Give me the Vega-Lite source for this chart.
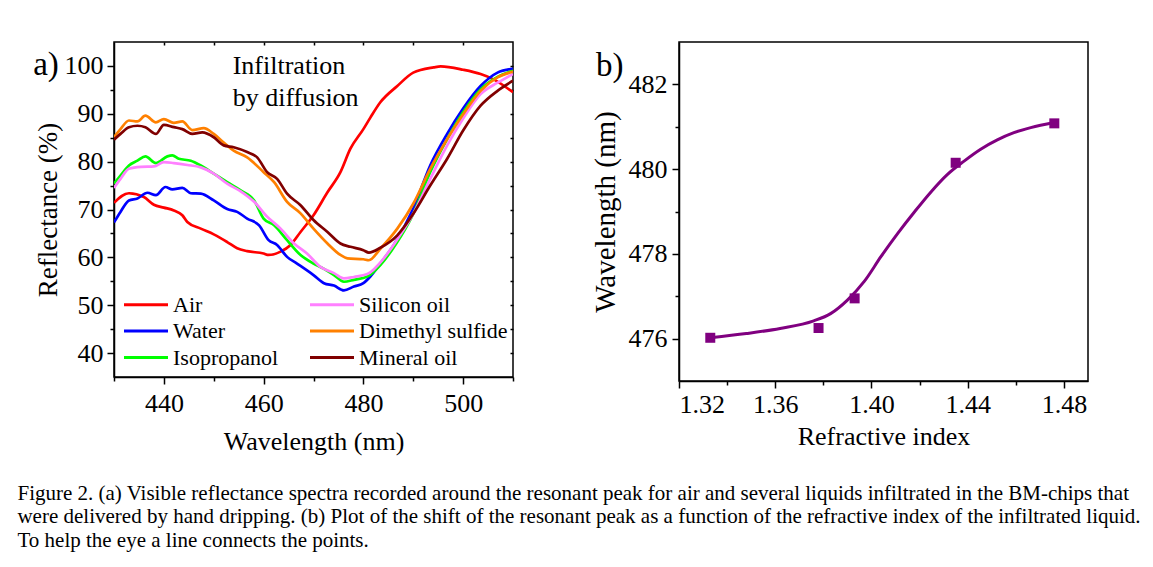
{
  "$schema": "https://vega.github.io/schema/vega-lite/v6.json",
  "padding": {"left": 17, "top": 40, "right": 5, "bottom": 5},
  "background": "white",
  "config": {
    "font": "Liberation Serif",
    "view": {"stroke": "black", "strokeWidth": 1.5},
    "axis": {"domainColor": "black", "domainWidth": 1.5, "tickColor": "black", "tickWidth": 1.5, "labelColor": "black", "titleColor": "black", "labelFont": "Liberation Serif", "titleFont": "Liberation Serif", "titleFontWeight": "normal", "labelFontSize": 26, "labelOverlap": false, "grid": false}
  },
  "title": {
    "text": ["Figure 2. (a) Visible reflectance spectra recorded around the resonant peak for air and several liquids infiltrated in the BM-chips that", "were delivered by hand dripping. (b) Plot of the shift of the resonant peak as a function of the refractive index of the infiltrated liquid.", "To help the eye a line connects the points."],
    "orient": "bottom", "anchor": "start", "font": "Liberation Serif", "fontSize": 21, "fontWeight": "normal", "lineHeight": 23.5, "offset": 28, "dx": -15, "color": "black"
  },
  "datasets": {
    "spectra": [
      {"s":"Air","w":430,"r":71.4},{"s":"Air","w":433,"r":73.4},{"s":"Air","w":436,"r":72.6},{"s":"Air","w":438,"r":71.0},{"s":"Air","w":440,"r":70.4},{"s":"Air","w":442,"r":69.8},{"s":"Air","w":443.7,"r":68.8},{"s":"Air","w":444.7,"r":67.4},{"s":"Air","w":447.4,"r":66.0},{"s":"Air","w":450,"r":64.8},{"s":"Air","w":452.7,"r":63.2},{"s":"Air","w":454.7,"r":61.9},{"s":"Air","w":456.7,"r":61.3},{"s":"Air","w":460,"r":60.8},{"s":"Air","w":461,"r":60.5},{"s":"Air","w":463.4,"r":61.2},{"s":"Air","w":465.4,"r":62.6},{"s":"Air","w":467.4,"r":65.3},{"s":"Air","w":470,"r":68.8},{"s":"Air","w":472.8,"r":73.6},{"s":"Air","w":475.4,"r":77.8},{"s":"Air","w":477.4,"r":82.7},{"s":"Air","w":480,"r":86.8},{"s":"Air","w":481.4,"r":89.2},{"s":"Air","w":483.4,"r":92.4},{"s":"Air","w":486.8,"r":95.8},{"s":"Air","w":490,"r":98.6},{"s":"Air","w":494.1,"r":99.7},{"s":"Air","w":495.5,"r":99.9},{"s":"Air","w":500,"r":99.2},{"s":"Air","w":503.5,"r":98.3},{"s":"Air","w":506.1,"r":97.2},{"s":"Air","w":510,"r":94.5},
      {"s":"Water","w":430,"r":67.3},{"s":"Water","w":431.3,"r":69.5},{"s":"Water","w":433,"r":71.9},{"s":"Water","w":434.7,"r":72.3},{"s":"Water","w":436.7,"r":73.5},{"s":"Water","w":438.4,"r":73.0},{"s":"Water","w":440.3,"r":74.7},{"s":"Water","w":441.7,"r":74.2},{"s":"Water","w":443.7,"r":74.5},{"s":"Water","w":445.4,"r":73.4},{"s":"Water","w":447.4,"r":73.3},{"s":"Water","w":450,"r":71.9},{"s":"Water","w":452.7,"r":70.1},{"s":"Water","w":454.7,"r":69.5},{"s":"Water","w":456.7,"r":68.1},{"s":"Water","w":459.1,"r":66.7},{"s":"Water","w":461,"r":63.6},{"s":"Water","w":462.7,"r":62.6},{"s":"Water","w":464.7,"r":60.1},{"s":"Water","w":466.7,"r":58.7},{"s":"Water","w":470,"r":56.3},{"s":"Water","w":472.1,"r":54.6},{"s":"Water","w":474.1,"r":54.1},{"s":"Water","w":476.1,"r":53.1},{"s":"Water","w":478.1,"r":53.9},{"s":"Water","w":480,"r":54.6},{"s":"Water","w":481.4,"r":56.0},{"s":"Water","w":483.4,"r":58.7},{"s":"Water","w":486.1,"r":62.6},{"s":"Water","w":490,"r":70.2},{"s":"Water","w":493.4,"r":79.2},{"s":"Water","w":496.8,"r":85.8},{"s":"Water","w":500,"r":91.1},{"s":"Water","w":503.5,"r":95.8},{"s":"Water","w":506.9,"r":98.6},{"s":"Water","w":510,"r":99.4},
      {"s":"Isopropanol","w":430,"r":75.4},{"s":"Isopropanol","w":431.3,"r":77.1},{"s":"Isopropanol","w":433,"r":79.2},{"s":"Isopropanol","w":434.7,"r":80.2},{"s":"Isopropanol","w":436.3,"r":81.1},{"s":"Isopropanol","w":438.4,"r":79.7},{"s":"Isopropanol","w":440.7,"r":81.1},{"s":"Isopropanol","w":441.7,"r":81.3},{"s":"Isopropanol","w":443,"r":80.6},{"s":"Isopropanol","w":445.4,"r":80.2},{"s":"Isopropanol","w":447.4,"r":79.2},{"s":"Isopropanol","w":450,"r":77.5},{"s":"Isopropanol","w":452.7,"r":75.7},{"s":"Isopropanol","w":455.4,"r":74.0},{"s":"Isopropanol","w":458.1,"r":71.9},{"s":"Isopropanol","w":460,"r":68.1},{"s":"Isopropanol","w":462.1,"r":66.7},{"s":"Isopropanol","w":464.7,"r":63.6},{"s":"Isopropanol","w":467.4,"r":60.5},{"s":"Isopropanol","w":470,"r":58.7},{"s":"Isopropanol","w":472.1,"r":57.6},{"s":"Isopropanol","w":474.1,"r":56.3},{"s":"Isopropanol","w":476.1,"r":54.9},{"s":"Isopropanol","w":478.1,"r":55.3},{"s":"Isopropanol","w":480.8,"r":56.0},{"s":"Isopropanol","w":483.4,"r":58.4},{"s":"Isopropanol","w":486.6,"r":62.9},{"s":"Isopropanol","w":490,"r":69.1},{"s":"Isopropanol","w":493.4,"r":77.8},{"s":"Isopropanol","w":496.8,"r":84.7},{"s":"Isopropanol","w":500,"r":90.3},{"s":"Isopropanol","w":503.5,"r":95.1},{"s":"Isopropanol","w":506.9,"r":97.7},{"s":"Isopropanol","w":510,"r":99.0},
      {"s":"Silicon oil","w":430,"r":74.5},{"s":"Silicon oil","w":431.3,"r":76.4},{"s":"Silicon oil","w":433,"r":78.5},{"s":"Silicon oil","w":435.4,"r":78.9},{"s":"Silicon oil","w":438,"r":79.0},{"s":"Silicon oil","w":440,"r":79.9},{"s":"Silicon oil","w":442,"r":79.7},{"s":"Silicon oil","w":444.7,"r":79.3},{"s":"Silicon oil","w":447.4,"r":78.8},{"s":"Silicon oil","w":450,"r":77.5},{"s":"Silicon oil","w":452.7,"r":75.4},{"s":"Silicon oil","w":455.4,"r":73.8},{"s":"Silicon oil","w":458.1,"r":71.6},{"s":"Silicon oil","w":460.7,"r":68.5},{"s":"Silicon oil","w":463.4,"r":66.0},{"s":"Silicon oil","w":466.1,"r":62.9},{"s":"Silicon oil","w":468.7,"r":60.8},{"s":"Silicon oil","w":471.4,"r":58.0},{"s":"Silicon oil","w":474.1,"r":56.7},{"s":"Silicon oil","w":476.1,"r":55.6},{"s":"Silicon oil","w":478.1,"r":55.9},{"s":"Silicon oil","w":480.8,"r":56.5},{"s":"Silicon oil","w":484.1,"r":59.8},{"s":"Silicon oil","w":487.4,"r":64.7},{"s":"Silicon oil","w":490,"r":69.1},{"s":"Silicon oil","w":493.4,"r":76.4},{"s":"Silicon oil","w":496.8,"r":83.4},{"s":"Silicon oil","w":500,"r":89.0},{"s":"Silicon oil","w":503.5,"r":94.1},{"s":"Silicon oil","w":506.9,"r":96.5},{"s":"Silicon oil","w":510,"r":98.3},
      {"s":"Dimethyl sulfide","w":430,"r":85.1},{"s":"Dimethyl sulfide","w":431.3,"r":86.8},{"s":"Dimethyl sulfide","w":433,"r":88.6},{"s":"Dimethyl sulfide","w":434.7,"r":88.4},{"s":"Dimethyl sulfide","w":436.3,"r":89.6},{"s":"Dimethyl sulfide","w":438.4,"r":88.2},{"s":"Dimethyl sulfide","w":440,"r":88.9},{"s":"Dimethyl sulfide","w":442,"r":88.1},{"s":"Dimethyl sulfide","w":443.7,"r":88.4},{"s":"Dimethyl sulfide","w":445.7,"r":86.6},{"s":"Dimethyl sulfide","w":448,"r":87.0},{"s":"Dimethyl sulfide","w":450,"r":85.8},{"s":"Dimethyl sulfide","w":452,"r":84.0},{"s":"Dimethyl sulfide","w":454,"r":82.3},{"s":"Dimethyl sulfide","w":456.7,"r":80.9},{"s":"Dimethyl sulfide","w":460,"r":77.8},{"s":"Dimethyl sulfide","w":462.1,"r":75.7},{"s":"Dimethyl sulfide","w":464.7,"r":71.6},{"s":"Dimethyl sulfide","w":467.4,"r":69.2},{"s":"Dimethyl sulfide","w":470,"r":66.0},{"s":"Dimethyl sulfide","w":472.8,"r":62.9},{"s":"Dimethyl sulfide","w":475.4,"r":60.5},{"s":"Dimethyl sulfide","w":476.8,"r":59.8},{"s":"Dimethyl sulfide","w":480,"r":59.6},{"s":"Dimethyl sulfide","w":481.1,"r":59.4},{"s":"Dimethyl sulfide","w":483.4,"r":61.8},{"s":"Dimethyl sulfide","w":486.8,"r":66.0},{"s":"Dimethyl sulfide","w":490,"r":71.2},{"s":"Dimethyl sulfide","w":493.4,"r":78.5},{"s":"Dimethyl sulfide","w":496.8,"r":84.7},{"s":"Dimethyl sulfide","w":500,"r":89.9},{"s":"Dimethyl sulfide","w":503.5,"r":94.8},{"s":"Dimethyl sulfide","w":506.9,"r":97.6},{"s":"Dimethyl sulfide","w":510,"r":98.8},
      {"s":"Mineral oil","w":430,"r":84.6},{"s":"Mineral oil","w":431.3,"r":85.8},{"s":"Mineral oil","w":433,"r":87.2},{"s":"Mineral oil","w":434.7,"r":87.5},{"s":"Mineral oil","w":436.3,"r":87.2},{"s":"Mineral oil","w":438.4,"r":85.8},{"s":"Mineral oil","w":440,"r":87.7},{"s":"Mineral oil","w":442,"r":87.2},{"s":"Mineral oil","w":443.7,"r":86.8},{"s":"Mineral oil","w":445.7,"r":85.8},{"s":"Mineral oil","w":447.7,"r":86.1},{"s":"Mineral oil","w":450,"r":85.1},{"s":"Mineral oil","w":452,"r":83.4},{"s":"Mineral oil","w":454,"r":83.0},{"s":"Mineral oil","w":456.7,"r":82.0},{"s":"Mineral oil","w":458.7,"r":80.9},{"s":"Mineral oil","w":460.7,"r":77.8},{"s":"Mineral oil","w":462.7,"r":76.4},{"s":"Mineral oil","w":464.7,"r":73.3},{"s":"Mineral oil","w":467.4,"r":70.9},{"s":"Mineral oil","w":470,"r":67.8},{"s":"Mineral oil","w":472.8,"r":65.3},{"s":"Mineral oil","w":475.4,"r":62.9},{"s":"Mineral oil","w":477.4,"r":62.2},{"s":"Mineral oil","w":480,"r":61.5},{"s":"Mineral oil","w":481.1,"r":61.0},{"s":"Mineral oil","w":483.4,"r":62.0},{"s":"Mineral oil","w":486.8,"r":64.6},{"s":"Mineral oil","w":490,"r":69.1},{"s":"Mineral oil","w":493.4,"r":75.0},{"s":"Mineral oil","w":496.8,"r":80.6},{"s":"Mineral oil","w":500,"r":86.5},{"s":"Mineral oil","w":503.5,"r":91.7},{"s":"Mineral oil","w":506.9,"r":94.8},{"s":"Mineral oil","w":510,"r":96.9}
    ],
    "points": [
      {"n":1.333,"wl":476.02},{"n":1.378,"wl":476.25},{"n":1.393,"wl":476.95},{"n":1.435,"wl":480.15},{"n":1.476,"wl":481.08}
    ],
    "fit": [
      {"n":1.333,"wl":476.02},{"n":1.348,"wl":476.12},{"n":1.362,"wl":476.24},{"n":1.376,"wl":476.42},{"n":1.383,"wl":476.59},{"n":1.390,"wl":476.91},{"n":1.397,"wl":477.35},{"n":1.404,"wl":477.94},{"n":1.411,"wl":478.49},{"n":1.418,"wl":479.0},{"n":1.425,"wl":479.48},{"n":1.4315,"wl":479.87},{"n":1.4385,"wl":480.19},{"n":1.4454,"wl":480.47},{"n":1.4523,"wl":480.69},{"n":1.4592,"wl":480.86},{"n":1.4662,"wl":480.98},{"n":1.476,"wl":481.1}
    ]
  },
  "spacing": 75,
  "hconcat": [
    {
      "width": 399,
      "height": 335,
      "resolve": {"axis": {"x": "independent", "y": "independent"}},
      "layer": [
        {
          "data": {"name": "spectra"},
          "mark": {"type": "line", "strokeWidth": 2.7, "interpolate": "monotone", "clip": true},
          "encoding": {
            "x": {"field": "w", "type": "quantitative", "scale": {"domain": [430, 510], "nice": false, "zero": false},
              "axis": {"title": "Wavelength (nm)", "titleFontSize": 26, "labelOverlap": false, "values": [430,440,450,460,470,480,490,500,510], "labelExpr": "datum.value % 20 === 0 ? datum.label : ''", "tickSize": {"condition": {"test": "datum.value % 20 === 0", "value": 7}, "value": 4}, "labelPadding": 6, "titlePadding": 12}},
            "y": {"field": "r", "type": "quantitative", "scale": {"domain": [35, 105], "nice": false, "zero": false},
              "axis": {"title": "Reflectance (%)", "titleFontSize": 27, "labelOverlap": false, "values": [40,45,50,55,60,65,70,75,80,85,90,95,100], "labelExpr": "datum.value % 10 === 0 ? datum.label : ''", "tickSize": {"condition": {"test": "datum.value % 10 === 0", "value": 7}, "value": 4}, "labelPadding": 4, "titlePadding": 2}},
            "color": {"field": "s", "type": "nominal",
              "scale": {"domain": ["Air", "Water", "Isopropanol", "Silicon oil", "Dimethyl sulfide", "Mineral oil"], "range": ["#FF0000", "#0000FF", "#00FF00", "#FF80FF", "#FF8000", "#800000"]},
              "legend": {"title": null, "orient": "none", "legendX": 8.5, "legendY": 250, "columns": 2, "columnPadding": 25, "rowPadding": 2.5, "symbolType": "M-1,0L3,0", "symbolSize": 484, "symbolStrokeWidth": 3, "labelFontSize": 22, "labelFont": "Liberation Serif", "labelColor": "black", "labelOffset": 25.5, "labelLimit": 300}}
          }
        },
        {
          "data": {"values": [{}]},
          "mark": {"type": "text", "text": ["Infiltration", "by diffusion"], "align": "left", "baseline": "alphabetic", "fontSize": 26, "lineHeight": 32, "font": "Liberation Serif", "color": "black"},
          "encoding": {
            "x": {"datum": 453.8, "type": "quantitative", "axis": {"orient": "top", "title": null, "labels": false, "domain": false, "values": [440,450,460,470,480,490,500], "tickSize": -3}},
            "y": {"datum": 98.3, "type": "quantitative", "axis": {"orient": "right", "title": null, "labels": false, "domain": false, "values": [40,45,50,55,60,65,70,75,80,85,90,95,100], "tickSize": -3}}
          }
        },
        {
          "data": {"values": [{}]},
          "mark": {"type": "text", "text": "a)", "align": "left", "baseline": "alphabetic", "fontSize": 33, "font": "Liberation Serif", "color": "black"},
          "encoding": {"x": {"datum": 413.8, "type": "quantitative", "axis": null}, "y": {"datum": 98.1, "type": "quantitative", "axis": null}}
        }
      ]
    },
    {
      "width": 409,
      "height": 339,
      "layer": [
        {
          "data": {"name": "fit"},
          "mark": {"type": "line", "color": "#800080", "strokeWidth": 3, "interpolate": "monotone"},
          "encoding": {
            "x": {"field": "n", "type": "quantitative", "scale": {"domain": [1.32, 1.49], "nice": false, "zero": false},
              "axis": {"title": "Refractive index", "titleFontSize": 26, "labelOverlap": false, "values": [1.32,1.34,1.36,1.38,1.40,1.42,1.44,1.46,1.48], "format": ".2f", "labelExpr": "round(datum.value*100) % 4 === 0 ? datum.label : ''", "tickSize": {"condition": {"test": "round(datum.value*100) % 4 === 0", "value": 7}, "value": 4}, "labelPadding": 3, "titlePadding": 6}},
            "y": {"field": "wl", "type": "quantitative", "scale": {"domain": [475, 483], "nice": false, "zero": false},
              "axis": {"title": "Wavelength (nm)", "titleFontSize": 29, "labelOverlap": false, "values": [476,477,478,479,480,481,482], "labelExpr": "datum.value % 2 === 0 ? datum.label : ''", "tickSize": {"condition": {"test": "datum.value % 2 === 0", "value": 7}, "value": 4}, "labelPadding": 5, "titlePadding": 8}}
          }
        },
        {
          "data": {"name": "points"},
          "mark": {"type": "square", "color": "#800080", "filled": true, "opacity": 1, "size": 100},
          "encoding": {
            "x": {"field": "n", "type": "quantitative"},
            "y": {"field": "wl", "type": "quantitative"}
          }
        },
        {
          "data": {"values": [{}]},
          "mark": {"type": "text", "text": "b)", "align": "left", "baseline": "alphabetic", "fontSize": 33, "font": "Liberation Serif", "color": "black"},
          "encoding": {"x": {"datum": 1.2855, "type": "quantitative"}, "y": {"datum": 482.19, "type": "quantitative"}}
        }
      ]
    }
  ]
}
